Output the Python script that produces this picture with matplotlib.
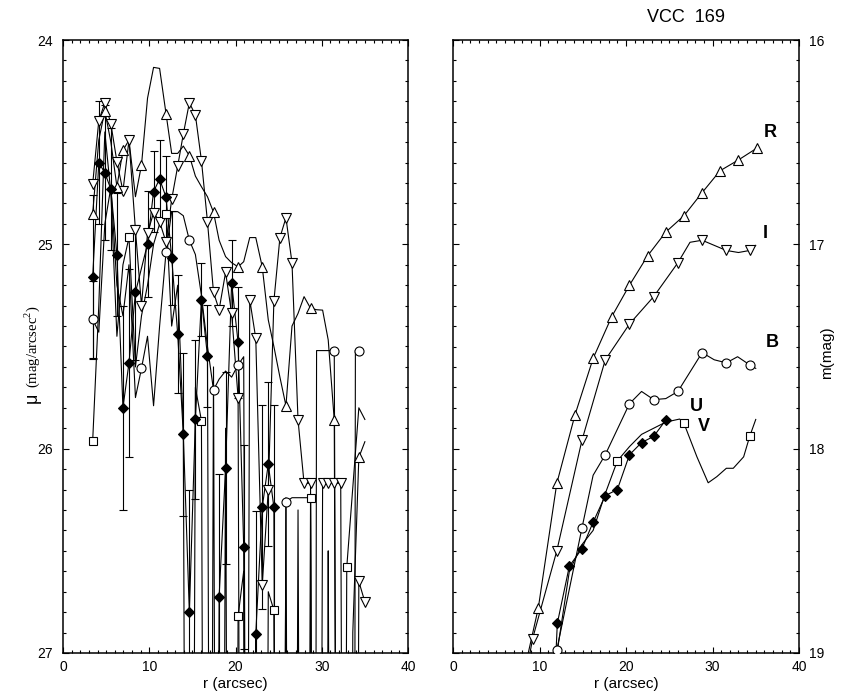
import numpy as np
import matplotlib
matplotlib.use("Agg")
import matplotlib.pyplot as plt
from matplotlib.ticker import MultipleLocator, FormatStrFormatter

plt.rcParams['font.family'] = ['Liberation Sans', 'DejaVu Sans']
plt.rcParams['mathtext.fontset'] = 'custom'
plt.rcParams['mathtext.rm'] = 'Liberation Serif'

FAINT = 34.0  # surface brightness below the plotted range

# --- surface brightness profiles (left) ---
r_grid = [3.44, 4.15, 4.85, 5.55, 6.25, 6.95, 7.65, 8.4, 9.1, 9.8, 10.5, 11.2, 11.95,
          12.6, 13.3, 13.95, 14.65, 15.35, 16.05, 16.75, 17.45, 18.1, 18.85, 19.55,
          20.3, 20.95, 21.65, 22.35, 23.1, 23.8, 24.45, 25.15, 25.85, 26.55, 27.25,
          27.95, 28.7, 29.4, 30.1, 30.75, 31.45, 32.2, 32.9, 33.6, 34.3, 35.0]

mu_I = [24.705, 24.395, 24.307, 24.41, 24.595, 24.74, 24.49, 24.93, 25.30, 24.946,
        24.845, 24.889, 24.99, 24.78, 24.617, 24.46, 24.307, 24.367, 24.59, 24.889,
        25.235, 25.32, 25.137, 25.338, 25.75, FAINT, 25.27, 25.46, 26.668, 26.20,
        25.278, 24.967, 24.87, 25.09, 25.86, 26.17, 26.17, FAINT, 26.17, 26.17,
        26.17, 26.17, FAINT, FAINT, 26.65, 26.75]

mu_R = [24.85, 24.49, 24.346, 24.50, 24.718, 24.54, 24.49, 24.767, 24.612, 24.285,
        24.134, 24.139, 24.362, 24.555, 24.555, 24.519, 24.566, 24.666, 24.718, 24.767,
        24.843, 24.98, 25.06, 25.09, 25.11, 25.085, 24.967, 24.967, 25.11, 25.37,
        25.50, 25.65, 25.79, 25.40, 25.338, 25.256, 25.313, 25.32, 25.322, 25.468,
        25.86, FAINT, FAINT, 26.9, 26.043, 25.966]
mk_R = [0, 2, 4, 5, 8, 12, 16, 20, 24, 28, 32, 36, 40, 44]

r_U = [3.44, 4.15, 4.85, 5.55, 6.25, 6.95, 7.65, 8.4, 9.8, 10.5, 11.2, 11.95, 12.6,
       13.3, 13.95, 14.65, 15.35, 16.05, 16.75, 17.45, 18.1, 18.85, 19.55, 20.3,
       20.95, 21.65, 22.35, 23.1, 23.8, 24.45, 25.15]
mu_U = [25.16, 24.60, 24.65, 24.73, 25.05, 25.80, 25.58, 25.235, 24.998, 24.742,
        24.68, 24.77, 25.065, 25.44, 25.93, 26.80, 25.857, 25.27, 25.547, FAINT,
        26.725, 26.096, 25.19, 25.48, 26.48, FAINT, 26.907, 26.287, 26.075, 26.287, FAINT]
err_U = [0.40, 0.30, 0.33, 0.30, 0.30, 0.50, 0.46, 0.33, 0.26, 0.20, 0.19, 0.20, 0.23,
         0.29, 0.40, 0.60, 0.39, 0.18, 0.25, 0.0, 0.60, 0.47, 0.21, 0.27, 0.50, 0.0,
         0.60, 0.50, 0.40, 0.50, 0.0]

r_B = [3.44, 4.15, 4.85, 5.55, 6.25, 6.95, 7.65, 8.4, 9.1, 9.8, 10.5, 11.2, 11.95,
       12.6, 13.3, 13.95, 14.65, 15.35, 16.05, 16.75, 17.45, 18.1, 18.85, 19.55, 20.3,
       20.95, 21.65, 25.15, 25.85, 26.55, 27.25, 27.95, 28.7, 29.05, 29.4, 30.1,
       30.75, 31.45, 32.2, 33.6, 33.9, 34.3]
mu_B = [25.367, 25.43, 24.9, 24.72, 25.2, 25.35, 25.1, 25.75, 25.607, 25.45, 25.79,
        25.4, 25.036, 24.84, 24.84, 24.86, 24.98, 25.05, 25.25, 25.5, 25.713, 25.66,
        25.62, 25.65, 25.59, 25.55, FAINT, FAINT, 26.26, 26.24, 26.24, 26.24, 26.24,
        FAINT, 25.52, 25.52, 25.52, 25.52, FAINT, FAINT, 25.52, 25.52]
mk_B = [0, 8, 12, 16, 20, 24, 28, 37, 41]
err_B = {0: 0.19}

r_V = [3.44, 4.15, 4.85, 5.55, 6.25, 6.95, 7.65, 8.4, 9.1, 9.8, 10.5, 11.2, 11.95,
       12.6, 13.3, 13.95, 14.65, 15.35, 16.05, 16.75, 17.45, 18.1, 18.85, 19.55, 20.3,
       20.95, 21.65, 22.35, 23.1, 23.8, 24.45, 25.15, 25.85, 26.55, 27.25, 27.95,
       28.7, 29.4, 30.1, 30.75, 31.45, 32.2, 32.9, 34.3, 35.0]
mu_V = [25.963, 25.30, 24.45, 24.75, 25.45, 25.10, 24.966, 25.60, 25.35, 25.20,
        25.00, 24.90, 24.85, 25.40, 25.20, 25.90, FAINT, 25.70, 25.863, FAINT, 25.60,
        FAINT, 25.90, FAINT, 26.82, 26.60, FAINT, 26.90, FAINT, 26.70, 26.79, FAINT,
        26.24, FAINT, 26.30, FAINT, 26.24, FAINT, FAINT, 26.50, FAINT, FAINT, 26.58,
        25.80, 25.857]
mk_V = [0, 6, 12, 18, 24, 30, 36, 42]

# --- growth curves (right) ---
r_R2 = [8.7, 9.86, 12.0, 14.1, 16.2, 18.35, 20.4, 22.5, 24.6, 26.7, 28.8, 30.87, 33.0, 35.1]
m_R2 = [19.0, 18.78, 18.17, 17.835, 17.558, 17.354, 17.20, 17.056, 16.94, 16.86,
        16.747, 16.64, 16.587, 16.53]
mk_R2 = list(range(1, 14))

r_I2 = [8.9, 9.2, 12.0, 14.9, 17.6, 20.4, 23.2, 26.0, 27.4, 28.8, 31.6, 33.0, 34.3, 35.0]
m_I2 = [19.0, 18.93, 18.50, 17.96, 17.566, 17.39, 17.256, 17.09, 16.99, 16.98, 17.03,
        17.04, 17.03, 17.005]
mk_I2 = [1, 2, 3, 4, 5, 6, 7, 9, 10, 12]

r_B2 = [11.85, 12.0, 14.9, 16.2, 17.6, 20.4, 21.8, 23.2, 24.6, 26.0, 28.8, 30.2, 31.6,
        32.9, 34.3, 35.0]
m_B2 = [19.05, 18.985, 18.39, 18.13, 18.03, 17.78, 17.72, 17.76, 17.755, 17.72, 17.53,
        17.565, 17.58, 17.55, 17.59, 17.607]
mk_B2 = [1, 2, 4, 5, 7, 9, 10, 12, 14]

r_U2 = [11.85, 12.06, 13.45, 14.9, 16.2, 17.6, 19.0, 20.4, 21.8, 23.2, 24.6]
m_U2 = [19.05, 18.855, 18.575, 18.49, 18.36, 18.23, 18.20, 18.03, 17.97, 17.94, 17.86]
mk_U2 = list(range(1, 11))

r_V2 = [11.9, 12.2, 13.45, 14.9, 16.2, 17.6, 19.0, 20.4, 21.8, 23.2, 24.6, 26.2, 26.7,
        28.2, 29.5, 30.5, 31.6, 32.4, 33.6, 34.3, 35.0]
m_V2 = [19.05, 18.95, 18.60, 18.47, 18.40, 18.22, 18.06, 17.99, 17.93, 17.90, 17.87,
        17.855, 17.876, 18.04, 18.167, 18.137, 18.096, 18.096, 18.04, 17.94, 17.857]
mk_V2 = [6, 12, 19]

band_labels = ['R', 'I', 'B', 'U', 'V']
label_pos = [(36.65, 16.455), (36.1, 16.945), (36.85, 17.48), (28.1, 17.795), (29.0, 17.893)]

W, H = 848, 695
fig = plt.figure(figsize=(W / 100, H / 100), dpi=100)
ax1 = fig.add_axes([63 / W, 42 / H, 345 / W, 613 / H])
ax2 = fig.add_axes([453 / W, 42 / H, 346 / W, 613 / H])


def profile(ax, r, mu, marker, idx=None, filled=False, ms=7):
    r = np.asarray(r)
    mu = np.asarray(mu)
    ax.plot(r, mu, color='k', lw=0.8, zorder=2)
    if idx is None:
        idx = np.arange(len(r))
    idx = np.asarray(idx)
    keep = mu[idx] < 30
    ax.plot(r[idx][keep], mu[idx][keep], ls='none', marker=marker, ms=ms,
            mfc='k' if filled else 'white', mec='k', mew=0.8, zorder=3)


# left panel
ru = np.asarray(r_U)
eu = np.asarray(err_U)
mu_u = np.asarray(mu_U)
has = eu > 0
ax1.errorbar(ru[has], mu_u[has], yerr=eu[has], fmt='none', ecolor='k',
             elinewidth=0.8, capsize=3, capthick=0.8, zorder=2)
for i, e in err_B.items():
    ax1.errorbar(r_B[i], mu_B[i], yerr=e, fmt='none', ecolor='k',
                 elinewidth=0.8, capsize=3, capthick=0.8, zorder=2)

profile(ax1, r_grid, mu_I, 'v')
profile(ax1, r_grid, mu_R, '^', mk_R)
profile(ax1, r_B, mu_B, 'o', mk_B, ms=6.5)
profile(ax1, r_V, mu_V, 's', mk_V, ms=5.5)
profile(ax1, r_U, mu_U, 'D', filled=True, ms=5)

ax1.set_xlim(0, 40)
ax1.set_ylim(27, 24)

# right panel
profile(ax2, r_R2, m_R2, '^', mk_R2, ms=7)
profile(ax2, r_I2, m_I2, 'v', mk_I2, ms=7)
profile(ax2, r_B2, m_B2, 'o', mk_B2, ms=6.5)
profile(ax2, r_V2, m_V2, 's', mk_V2, ms=5.5)
profile(ax2, r_U2, m_U2, 'D', mk_U2, filled=True, ms=5)
for lab, (x, y) in zip(band_labels, label_pos):
    ax2.text(x, y, lab, fontsize=13, fontweight='bold', ha='center', va='center')

ax2.set_xlim(0, 40)
ax2.set_ylim(19, 16)

for ax in (ax1, ax2):
    ax.xaxis.set_major_locator(MultipleLocator(10))
    ax.xaxis.set_minor_locator(MultipleLocator(1))
    ax.yaxis.set_major_locator(MultipleLocator(1))
    ax.yaxis.set_minor_locator(MultipleLocator(0.1))
    ax.xaxis.set_major_formatter(FormatStrFormatter('%d'))
    ax.yaxis.set_major_formatter(FormatStrFormatter('%d'))
    ax.tick_params(which='both', direction='in', top=True, right=True,
                   width=0.8, labelsize=10)
    ax.tick_params(which='major', length=4.5)
    ax.tick_params(which='minor', length=2.2)
    ax.tick_params(axis='x', pad=5)
    for s in ax.spines.values():
        s.set_linewidth(1.1)
    ax.set_xlabel('r (arcsec)', fontsize=11, labelpad=2)

ax1.tick_params(axis='y', pad=7)
ax2.tick_params(axis='y', labelleft=False, labelright=True, pad=7)

# axis titles
ax1.text(-0.09, 0.425, 'μ', rotation=90, fontsize=13, ha='center', va='top',
         transform=ax1.transAxes)
ax1.text(-0.09, 0.432, r'(mag/arcsec$^{2}$)', rotation=90, fontsize=10.5,
         family='Liberation Serif', ha='center', va='bottom', transform=ax1.transAxes)
ax2.text(1.081, 0.49, 'm(mag)', rotation=90, fontsize=11, ha='center', va='center',
         transform=ax2.transAxes)
fig.text(686 / W, 1 - 17 / H, 'VCC  169', fontsize=13, ha='center', va='center')

fig.savefig('out.png', dpi=100)
